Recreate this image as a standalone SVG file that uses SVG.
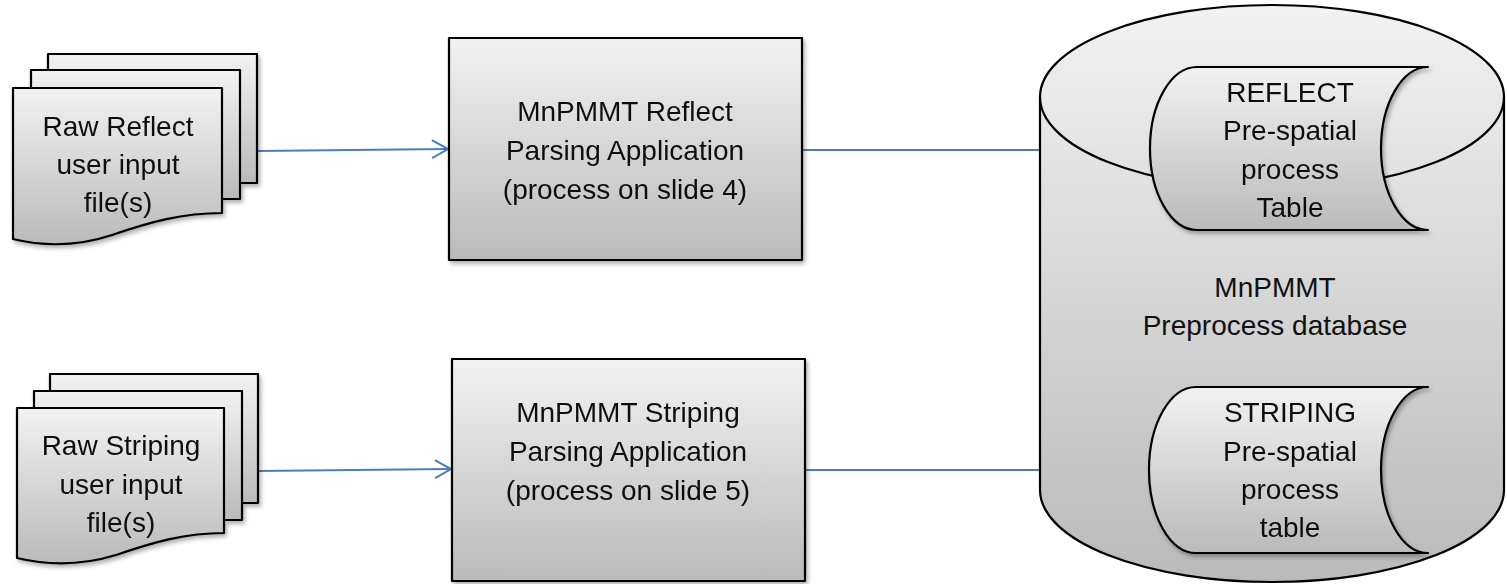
<svg xmlns="http://www.w3.org/2000/svg" width="1507" height="584" viewBox="0 0 1507 584">
<style>
.t{font-family:"Liberation Sans",Arial,sans-serif;font-size:28px;fill:#111;text-anchor:middle}
.s{stroke:#000;stroke-width:2.2;stroke-linejoin:round}
.c{stroke:#4a7ebb;stroke-width:1.8;fill:none}
</style>
<defs>
<linearGradient id="g" x1="0" y1="0" x2="0" y2="1">
<stop offset="0" stop-color="#f2f2f2"/>
<stop offset="1" stop-color="#bababa"/>
</linearGradient>
<filter id="sh" x="-10%" y="-10%" width="125%" height="125%">
<feDropShadow dx="2" dy="3" stdDeviation="2" flood-color="#000" flood-opacity="0.3"/>
</filter>
<marker id="ar" markerWidth="22" markerHeight="22" refX="19" refY="11" orient="auto" markerUnits="userSpaceOnUse">
<path d="M3,2 L19,11 L3,20" fill="none" stroke="#4a7ebb" stroke-width="2"/>
</marker>
</defs>

<g id="connectors">
<path class="c" d="M257,151 L448,149" marker-end="url(#ar)"/>
<path class="c" d="M258,471 L451,469" marker-end="url(#ar)"/>
<path class="c" d="M802,150 L1040,150"/>
<path class="c" d="M805,470 L1040,470"/>
</g>

<g id="doc-reflect" filter="url(#sh)">
<rect x="48" y="54" width="209" height="129" fill="url(#g)" class="s"/>
<rect x="31" y="70" width="209" height="129" fill="url(#g)" class="s"/>
<path d="M13,88 H222 V213 C182,213 150,222 112,235 C76,247 42,246 13,239 Z" fill="url(#g)" class="s"/>
<text class="t" x="118" y="136">Raw Reflect</text>
<text class="t" x="118" y="174">user input</text>
<text class="t" x="118" y="212">file(s)</text>
</g>

<g id="doc-striping" filter="url(#sh)">
<rect x="50" y="374" width="208" height="129" fill="url(#g)" class="s"/>
<rect x="34" y="391" width="208" height="129" fill="url(#g)" class="s"/>
<path d="M17,408 H224 V533 C185,533 154,542 116,555 C80,566 46,565 17,558 Z" fill="url(#g)" class="s"/>
<text class="t" x="121" y="455">Raw Striping</text>
<text class="t" x="121" y="494">user input</text>
<text class="t" x="121" y="532">file(s)</text>
</g>

<g id="proc-reflect" filter="url(#sh)">
<rect x="449" y="38" width="353" height="222" fill="url(#g)" class="s"/>
<text class="t" x="625" y="121">MnPMMT Reflect</text>
<text class="t" x="625" y="160">Parsing Application</text>
<text class="t" x="625" y="199">(process on slide 4)</text>
</g>

<g id="proc-striping" filter="url(#sh)">
<rect x="452" y="359" width="353" height="222" fill="url(#g)" class="s"/>
<text class="t" x="628" y="422">MnPMMT Striping</text>
<text class="t" x="628" y="461">Parsing Application</text>
<text class="t" x="628" y="500">(process on slide 5)</text>
</g>

<g id="database">
<path d="M1040,97 A232,92 0 0 1 1504,97 L1504,490 A232,92 0 0 1 1040,490 Z" fill="url(#g)" class="s"/>
<path d="M1040,97 A232,92 0 0 0 1504,97" fill="none" class="s"/>
<text class="t" x="1275" y="297">MnPMMT</text>
<text class="t" x="1275" y="335">Preprocess database</text>
</g>

<g id="table-reflect" filter="url(#sh)">
<path d="M1197,67 L1428,67 A47,81.5 0 0 0 1428,230 L1197,230 A47,81.5 0 0 1 1197,67 Z" fill="url(#g)" class="s"/>
<text class="t" x="1290" y="102">REFLECT</text>
<text class="t" x="1290" y="140">Pre-spatial</text>
<text class="t" x="1290" y="179">process</text>
<text class="t" x="1290" y="217">Table</text>
</g>

<g id="table-striping" filter="url(#sh)">
<path d="M1196,387 L1428,387 A47,83 0 0 0 1428,553 L1196,553 A47,83 0 0 1 1196,387 Z" fill="url(#g)" class="s"/>
<text class="t" x="1290" y="422">STRIPING</text>
<text class="t" x="1290" y="461">Pre-spatial</text>
<text class="t" x="1290" y="499">process</text>
<text class="t" x="1290" y="537">table</text>
</g>
</svg>
